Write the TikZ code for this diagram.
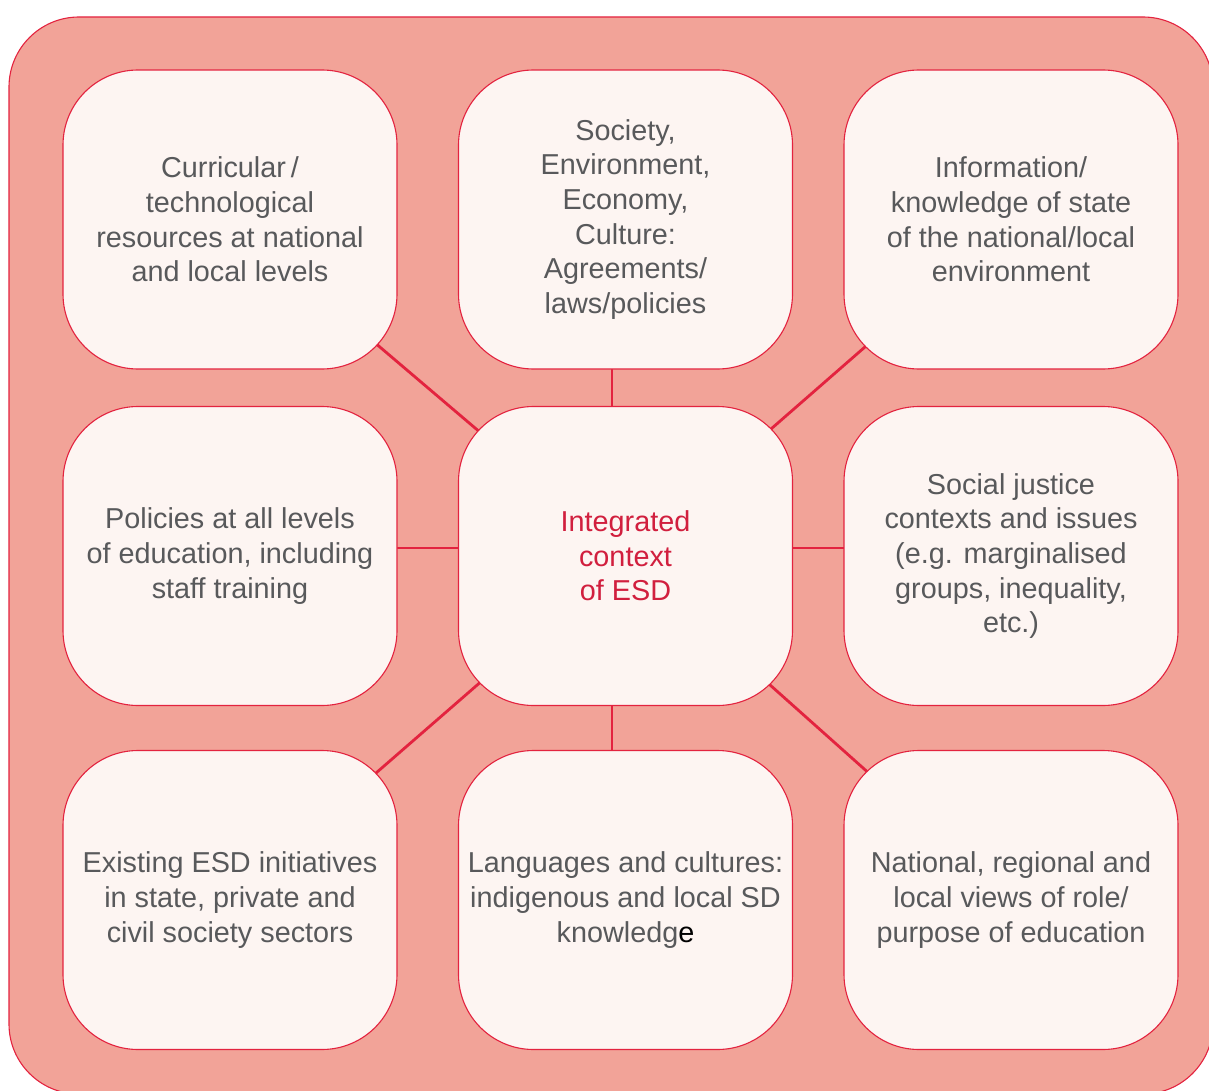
\documentclass[tikz,border=0pt]{standalone}
\usepackage{fontspec}
\setmainfont{Liberation Sans}
\definecolor{crim}{HTML}{E3233F}
\definecolor{salmon}{HTML}{F2A398}
\definecolor{boxfill}{HTML}{FDF5F2}
\definecolor{txtgray}{HTML}{58595B}
\definecolor{ctrred}{HTML}{D11F3E}
\pgfdeclarelayer{back}
\pgfsetlayers{back,main}
\tikzset{
  ctxbox/.style={rectangle, rounded corners=75pt, minimum width=334pt, minimum height=299pt,
    draw=crim, fill=boxfill, line width=1.1pt, text=txtgray, align=center, inner sep=0pt,
    font=\fontsize{28.8}{34.7}\selectfont},
  link/.style={draw=crim, line width=2.8pt},
  frame/.style={draw=crim, fill=salmon, line width=1.1pt, rounded corners=70pt}
}
\begin{document}
\begin{tikzpicture}[x=1pt,y=-1pt]
\useasboundingbox (0,0) rectangle (1209,1091);
\clip (0,0) rectangle (1209,1091);
\node[ctxbox] (tl) at (230,219.5) {Curricular\,/\\technological\\resources at national\\and local levels};
\node[ctxbox] (tm) at (625.5,219.5) {Society,\\Environment,\\Economy,\\Culture:\\Agreements/\\laws/policies};
\node[ctxbox] (tr) at (1011,219.5) {Information/\\knowledge of state\\of the national/local\\environment};
\node[ctxbox] (ml) at (230,556) {Policies at all levels\\of education, including\\staff training};
\node[ctxbox, text=ctrred] (c) at (625.5,556) {Integrated\\context\\of ESD};
\node[ctxbox] (mr) at (1011,556) {Social justice\\contexts and issues\\(e.g. marginalised\\groups, inequality,\\etc.)};
\node[ctxbox] (bl) at (230,900) {Existing ESD initiatives\\in state, private and\\civil society sectors};
\node[ctxbox] (bm) at (625.5,900) {Languages and cultures:\\indigenous and local SD\\knowledg{\color{black}e}};
\node[ctxbox] (br) at (1011,900) {National, regional and\\local views of role/\\purpose of education};
\begin{pgfonlayer}{back}
\coordinate (ftl) at (9,17);
\coordinate (fbr) at (1213,1094);
\path[frame] (ftl) rectangle (fbr);
\draw[link] (c.center) -- (tl.center);
\draw[link] ([xshift=-13.5pt]c.center) -- ([xshift=-13.5pt]tm.center);
\draw[link] (c.center) -- (tr.center);
\draw[link] ([yshift=8pt]c.center) -- ([yshift=8pt]ml.center);
\draw[link] ([yshift=8pt]c.center) -- ([yshift=8pt]mr.center);
\draw[link] (c.center) -- (bl.center);
\draw[link] ([xshift=-13.5pt]c.center) -- ([xshift=-13.5pt]bm.center);
\draw[link] (c.center) -- (br.center);
\end{pgfonlayer}
\end{tikzpicture}
\end{document}
